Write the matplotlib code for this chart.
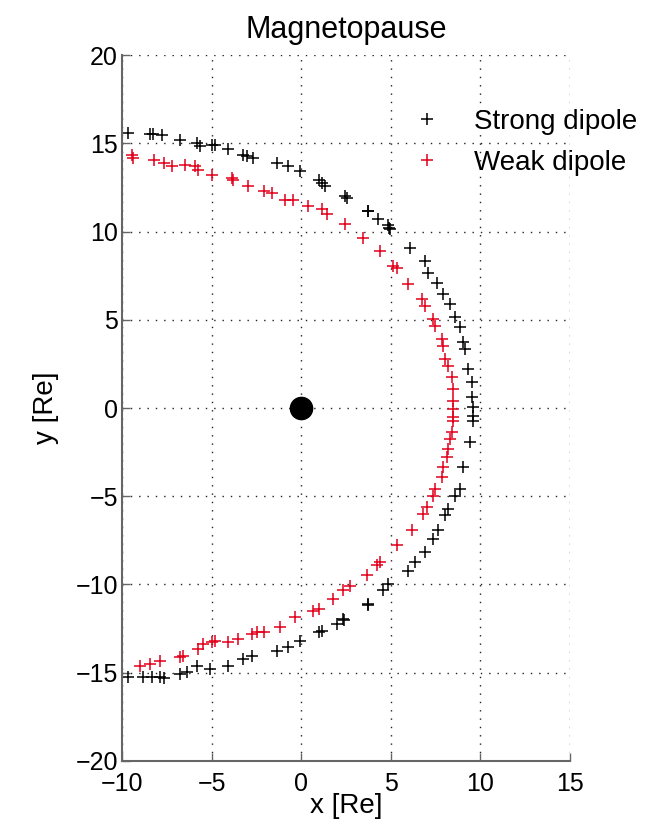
import matplotlib
matplotlib.use("Agg")
import matplotlib.pyplot as plt

plt.rcParams['font.family'] = ['Liberation Sans', 'DejaVu Sans']

strong_x = [-9.64, -8.43, -8.26, -7.77, -6.75, -5.82, -5.64, -4.98, -4.80, -4.06, -3.22, -3.03, -2.66,
            -1.36, -0.71, -0.06, 0.97, 1.16, 1.34, 2.46, 2.55, 3.71, 3.76, 4.27, 4.87, 4.93, 4.97,
            6.08, 6.92, 7.10, 7.57, 7.94, 8.31, 8.59, 8.87, 9.06, 9.15, 9.34, 9.53, 9.53, 9.62, 9.62,
            9.62, 9.43, 9.06, 8.87, 8.59, 8.22, 8.04, 7.66, 7.38, 6.92, 6.36, 5.99, 4.87, 4.59, 3.71,
            3.76, 2.36, 2.40, 1.99, 1.01, 1.16, -0.06, -0.71, -1.36, -2.75, -3.22, -4.06, -5.08, -5.82,
            -6.38, -6.75, -7.68, -7.87, -8.33, -8.80, -9.64]
strong_y = [15.58, 15.53, 15.54, 15.49, 15.20, 15.02, 14.83, 14.92, 14.92, 14.68, 14.36, 14.26, 14.17,
            13.89, 13.70, 13.41, 12.94, 12.76, 12.57, 12.00, 11.90, 11.19, 11.15, 10.73, 10.35, 10.20, 10.12,
            9.09, 8.33, 7.67, 7.11, 6.45, 5.88, 5.13, 4.57, 3.72, 3.34, 2.21, 1.46, 0.61, 0.05, -0.43,
            -0.71, -1.93, -3.35, -4.58, -4.96, -5.71, -6.09, -6.94, -7.41, -8.17, -8.73, -9.21, -9.96, -10.34, -11.10,
            -11.18, -11.94, -12.03, -12.23, -12.70, -12.61, -13.18, -13.55, -13.75, -14.03, -14.22, -14.60, -14.79, -14.60,
            -14.98, -15.07, -15.31, -15.26, -15.26, -15.26, -15.26]

weak_x = [-9.45, -9.36, -8.24, -7.68, -7.22, -6.47, -5.92, -5.73, -4.98, -3.87, -3.79, -2.94, -2.10,
          -1.64, -0.89, -0.43, 0.41, 1.16, 1.43, 2.46, 3.48, 4.41, 5.15, 5.34, 5.99, 6.74, 6.92, 7.38,
          7.48, 7.85, 7.94, 8.04, 8.22, 8.41, 8.50, 8.50, 8.50, 8.50, 8.50, 8.41, 8.31, 8.22, 8.13,
          7.94, 7.85, 7.48, 7.38, 7.01, 6.82, 6.18, 5.34, 4.41, 4.22, 3.67, 2.73, 2.36, 1.80, 0.97,
          0.69, -0.33, -1.17, -2.10, -2.47, -2.75, -3.50, -4.06, -4.80, -4.98, -5.45, -5.73, -6.57,
          -6.75, -7.87, -8.43, -8.98]
weak_y = [14.36, 14.17, 14.07, 13.89, 13.70, 13.79, 13.70, 13.51, 13.23, 13.04, 12.94, 12.57, 12.28,
          12.19, 11.81, 11.81, 11.44, 11.25, 10.97, 10.40, 9.65, 8.89, 8.05, 7.96, 7.01, 6.16, 5.79, 5.03,
          4.66, 3.90, 3.53, 2.77, 2.40, 1.74, 1.08, 0.42, -0.05, -0.52, -0.71, -1.37, -1.74, -2.31, -2.78,
          -3.35, -3.92, -4.58, -4.96, -5.62, -6.00, -6.94, -7.79, -8.73, -8.92, -9.49, -10.06, -10.34, -10.80, -11.38,
          -11.48, -11.85, -12.42, -12.70, -12.70, -12.79, -13.08, -13.27, -13.18, -13.27, -13.37, -13.65, -14.03,
          -14.13, -14.32, -14.51, -14.60]

planet_x = [0]
planet_y = [0]

fig = plt.figure(figsize=(6.68, 8.39), dpi=100)
ax = fig.add_axes([0.1826, 0.093, 0.6705, 0.8414])

ax.plot(strong_x, strong_y, '+', color='black', markersize=9, mew=1.1, label='Strong dipole')
ax.plot(weak_x, weak_y, '+', color='#e3001b', markersize=9, mew=1.1, label='Weak dipole')
ax.plot(planet_x, planet_y, 'o', color='black', markersize=16)

ax.set_xlim(-10, 15)
ax.set_ylim(-20, 20)
ax.set_xticks([-10, -5, 0, 5, 10, 15])
ax.set_yticks([-20, -15, -10, -5, 0, 5, 10, 15, 20])
ax.set_xticklabels(['\u221210', '\u22125', '0', '5', '10', '15'])
ax.set_yticklabels(['\u221220', '\u221215', '\u221210', '\u22125', '0', '5', '10', '15', '20'])
ax.grid(True, linestyle=(0, (1, 5)), color='#222222', linewidth=1.0)
for s in ['top', 'right']:
    ax.spines[s].set_visible(False)
for s in ['left', 'bottom']:
    ax.spines[s].set_color('#666666')
    ax.spines[s].set_linewidth(1.5)
ax.tick_params(direction='in', length=6, width=1, color='#666666', labelsize=18)
ax.tick_params(axis='y', pad=3)
ax.tick_params(axis='x', pad=8)
ax.set_xlabel('x [Re]', fontsize=20, labelpad=-2)
ax.set_ylabel('y [Re]', fontsize=20, labelpad=12)
ax.set_title('Magnetopause', fontsize=22, pad=12)
ax.legend(loc='upper left', frameon=False, fontsize=20, handletextpad=1.2,
          borderaxespad=0, labelspacing=0.55, handlelength=1.0, markerscale=0.9,
          bbox_to_anchor=(0.625, 0.94))

fig.savefig('out.png', dpi=100)
